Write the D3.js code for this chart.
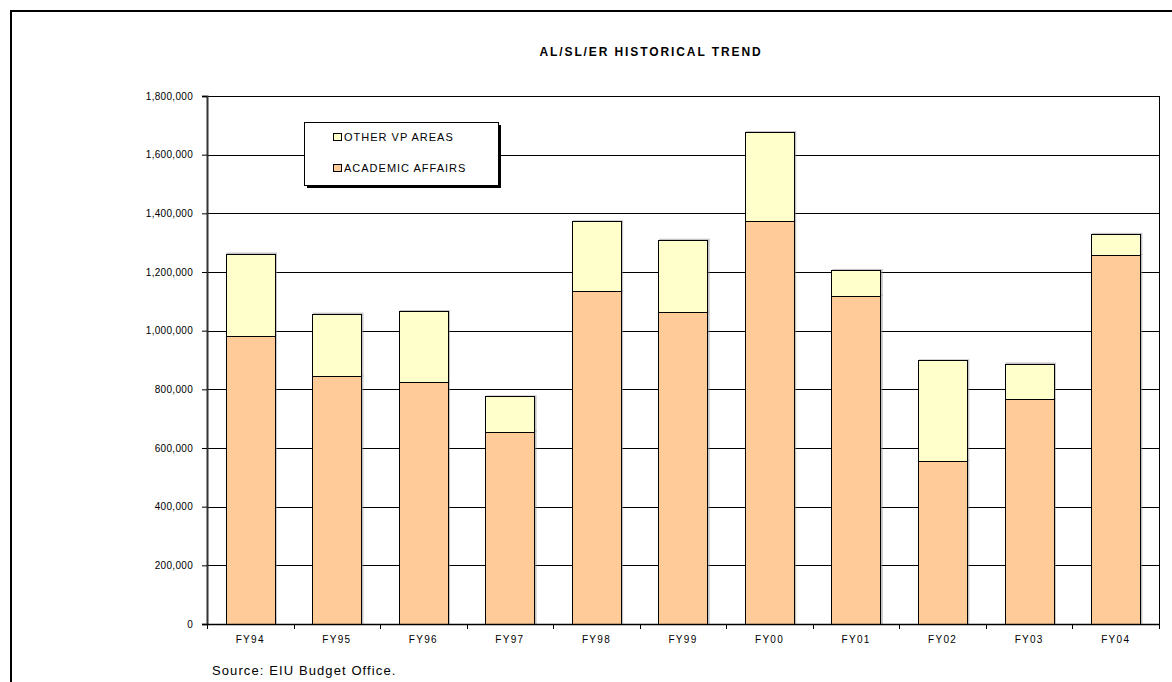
<!DOCTYPE html>
<html>
<head>
<meta charset="utf-8">
<script src="https://cdn.jsdelivr.net/npm/d3@7"></script>
<style>
  html, body { margin: 0; padding: 0; background: #fff; }
  svg { display: block; font-family: "Liberation Sans", Arial, sans-serif; }
</style>
</head>
<body>
<svg id="chart" width="1172" height="682"></svg>
<script>
// Fiscal years and stacked series (dollars)
const categories = ["FY94", "FY95", "FY96", "FY97", "FY98", "FY99", "FY00", "FY01", "FY02", "FY03", "FY04"];
const academicAffairs = [982000, 844000, 825000, 656000, 1134000, 1062000, 1373000, 1119000, 556000, 766000, 1258000];
const otherVpAreas   = [281000, 214000, 242000, 120000, 239000, 248000, 304000, 88000, 343000, 122000, 72000];
const yTicks = [0, 200000, 400000, 600000, 800000, 1000000, 1200000, 1400000, 1600000, 1800000];
const seriesNames = ["ACADEMIC AFFAIRS", "OTHER VP AREAS"];
const seriesColors = ["#FFCC99", "#FFFFCC"];

const svg = d3.select("#chart");

// Outer frame
svg.append("rect")
  .attr("x", 11).attr("y", 11).attr("width", 1200).attr("height", 700)
  .attr("fill", "none").attr("stroke", "#000").attr("stroke-width", 2);

const plot = { left: 207, right: 1159, top: 96, bottom: 624 };

const x = d3.scaleBand().domain(categories)
  .range([plot.left, plot.right]).paddingInner(0.43).paddingOuter(0.215);
const y = d3.scaleLinear().domain([0, 1800000]).range([plot.bottom, plot.top]);

// Title
svg.append("text")
  .attr("x", 651).attr("y", 56).attr("text-anchor", "middle")
  .attr("font-size", 12).attr("font-weight", "bold").attr("letter-spacing", 1.9)
  .text("AL/SL/ER HISTORICAL TREND");

// Gridlines
svg.append("g").selectAll("line").data(yTicks.filter(d => d > 0)).join("line")
  .attr("x1", plot.left).attr("x2", plot.right)
  .attr("y1", d => Math.round(y(d)) + 0.5).attr("y2", d => Math.round(y(d)) + 0.5)
  .attr("stroke", "#000").attr("stroke-width", 1);

// Right border of plot area
svg.append("line")
  .attr("x1", plot.right + 0.5).attr("x2", plot.right + 0.5)
  .attr("y1", plot.top).attr("y2", plot.bottom)
  .attr("stroke", "#000");

// Stacked bars
const rows = categories.map((c, i) => ({ cat: c, a: academicAffairs[i], o: otherVpAreas[i] }));
const stack = d3.stack().keys(["a", "o"])(rows);

const layers = svg.append("g").selectAll("g").data(stack).join("g")
  .attr("fill", (d, i) => seriesColors[i]);

// soft shadow edge
layers.selectAll("rect.sh").data(d => d).join("rect")
  .attr("class", "sh")
  .attr("x", d => x(d.data.cat) + 1)
  .attr("y", d => y(d[1]) - 1)
  .attr("width", x.bandwidth() + 1)
  .attr("height", d => y(d[0]) - y(d[1]) + 1)
  .attr("fill", "#888").attr("opacity", 0.5);

layers.selectAll("rect.bar").data(d => d).join("rect")
  .attr("class", "bar")
  .attr("x", d => Math.round(x(d.data.cat)) + 0.5)
  .attr("y", d => Math.round(y(d[1])) + 0.5)
  .attr("width", Math.round(x.bandwidth()))
  .attr("height", d => Math.round(y(d[0])) - Math.round(y(d[1])))
  .attr("stroke", "#000").attr("stroke-width", 1);

// Y axis
const yAxis = svg.append("g")
  .attr("transform", `translate(${plot.left},0)`)
  .call(d3.axisLeft(y).tickValues(yTicks).tickSize(5).tickPadding(9)
    .tickFormat(d3.format(",")));
yAxis.select(".domain").attr("stroke", "#333").attr("stroke-width", 2);
yAxis.selectAll(".tick line").attr("stroke", "#000");
yAxis.selectAll("text").attr("font-size", 10).attr("fill", "#000")
  .attr("font-family", "Liberation Sans, Arial, sans-serif").attr("letter-spacing", 0.3);

// X axis with ticks at category boundaries
const xAxisG = svg.append("g").attr("transform", `translate(0,${plot.bottom})`);
xAxisG.append("line")
  .attr("x1", plot.left).attr("x2", plot.right + 1)
  .attr("y1", 0.5).attr("y2", 0.5).attr("stroke", "#000").attr("stroke-width", 1.5);
const bounds = d3.range(categories.length + 1).map(i => plot.left + i * x.step());
xAxisG.selectAll("line.tk").data(bounds).join("line")
  .attr("class", "tk")
  .attr("x1", d => Math.round(d) + 0.5).attr("x2", d => Math.round(d) + 0.5)
  .attr("y1", 0).attr("y2", 5).attr("stroke", "#000");
xAxisG.selectAll("text").data(categories).join("text")
  .attr("x", d => x(d) + x.bandwidth() / 2).attr("y", 19)
  .attr("text-anchor", "middle").attr("font-size", 10).attr("letter-spacing", 1.3)
  .text(d => d);

// Legend
const lg = svg.append("g").attr("transform", "translate(304,122)");
lg.append("rect").attr("x", 3).attr("y", 3).attr("width", 194).attr("height", 63).attr("fill", "#000");
lg.append("rect").attr("x", 0.5).attr("y", 0.5).attr("width", 194).attr("height", 63)
  .attr("fill", "#fff").attr("stroke", "#000");
const legendOrder = [1, 0];
legendOrder.forEach((si, k) => {
  const gy = 15 + k * 31;
  lg.append("rect").attr("x", 29.5).attr("y", gy - 3.5).attr("width", 8).attr("height", 7)
    .attr("fill", seriesColors[si]).attr("stroke", "#000");
  lg.append("text").attr("x", 40).attr("y", gy + 4)
    .attr("font-size", 11).attr("letter-spacing", 1).text(seriesNames[si]);
});

// Source note
svg.append("text")
  .attr("x", 212).attr("y", 675)
  .attr("font-size", 13).attr("letter-spacing", 1.1)
  .text("Source: EIU Budget Office.");
</script>
</body>
</html>
